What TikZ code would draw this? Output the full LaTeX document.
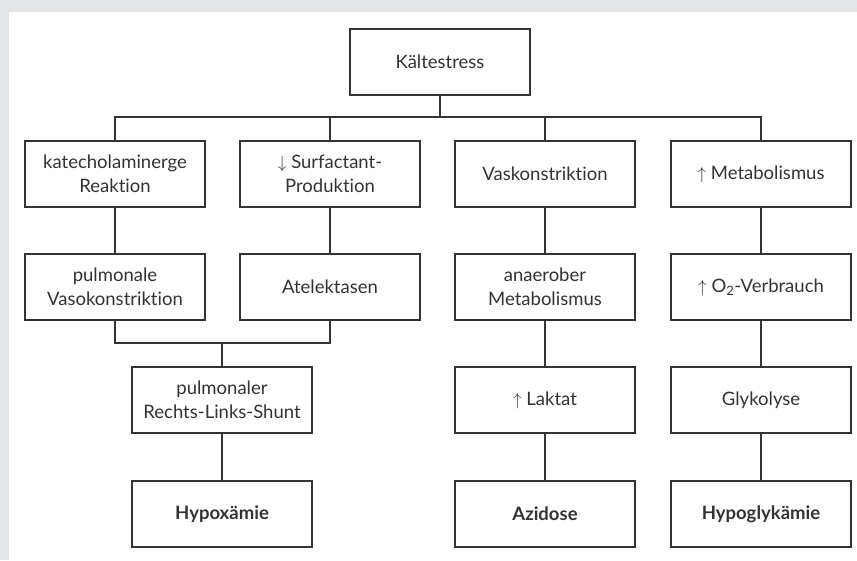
\documentclass[tikz,border=0pt]{standalone}
\usepackage{fontspec}
\setmainfont{Lato}[Ligatures=NoCommon]
\usetikzlibrary{positioning}

\definecolor{pagegrey}{HTML}{E4E5E7}
\definecolor{inkgrey}{HTML}{333333}

\tikzset{
  box/.style={draw=inkgrey, line width=1.1pt, minimum width=180pt, minimum height=66pt,
    inner sep=0pt, align=center, text=inkgrey, font=\fontsize{18.5}{24.5}\selectfont},
  link/.style={draw=inkgrey, line width=1.1pt}
}

\begin{document}
\begin{tikzpicture}[x=1pt, y=-1pt]
	 % background
	 \fill[pagegrey] (0,0) rectangle (857,560);
	 \fill[white] (9,12) rectangle (857,560);
	 \useasboundingbox (0,0) rectangle (857,560);

	 \node[box] (stress) at (440,62) {Kältestress};

	 \node[box] (katech) at (115,174) {katecholaminerge\\Reaktion};
	 \node[box] (surf) at (330,174) {$\downarrow$ Surfactant-\\Produktion};
	 \node[box] (vaso) at (545,174) {Vaskonstriktion};
	 \node[box] (metab) at (761,174) {$\uparrow$ Metabolismus};

	 \node[box] (pulmvaso) at (115,287) {pulmonale\\Vasokonstriktion};
	 \node[box] (atel) at (330,287) {Atelektasen};
	 \node[box] (anaer) at (545,287) {anaerober\\Metabolismus};
	 \node[box] (otwo) at (761,287) {$\uparrow$ O\textsubscript{2}-Verbrauch};

	 \node[box] (shunt) at (222,400) {pulmonaler\\Rechts-Links-Shunt};
	 \node[box] (laktat) at (545,400) {$\uparrow$ Laktat};
	 \node[box] (glyko) at (761,400) {Glykolyse};

	 \node[box] (hypox) at (222,514) {\textbf{Hypoxämie}};
	 \node[box] (azid) at (545,514) {\textbf{Azidose}};
	 \node[box] (hypogly) at (761,514) {\textbf{Hypoglykämie}};

	 \coordinate (split) at (440,117);
	 \coordinate (merge) at (222,343);

	 \draw[link] (stress) -- (split);
	 \draw[link] (katech.north) |- (split) -| (metab.north);
	 \draw[link] (surf.north) -- (surf.north |- split);
	 \draw[link] (vaso.north) -- (vaso.north |- split);

	 \draw[link] (katech) -- (pulmvaso);
	 \draw[link] (surf) -- (atel);
	 \draw[link] (pulmvaso.south) |- (merge) -| (atel.south);
	 \draw[link] (merge) -- (shunt);
	 \draw[link] (shunt) -- (hypox);

	 \draw[link] (vaso) -- (anaer);
	 \draw[link] (anaer) -- (laktat);
	 \draw[link] (laktat) -- (azid);

	 \draw[link] (metab) -- (otwo);
	 \draw[link] (otwo) -- (glyko);
	 \draw[link] (glyko) -- (hypogly);
\end{tikzpicture}
\end{document}
